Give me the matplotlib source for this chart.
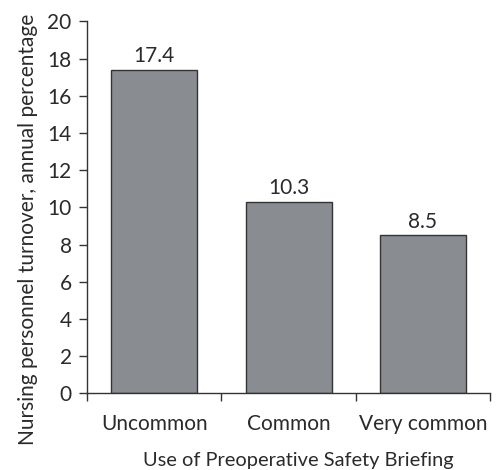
import matplotlib
matplotlib.use("Agg")
import matplotlib.pyplot as plt

categories = ["Uncommon", "Common", "Very common"]
values = [17.4, 10.3, 8.5]
value_labels = ["17.4", "10.3", "8.5"]
y_ticks = [0, 2, 4, 6, 8, 10, 12, 14, 16, 18, 20]

plt.rcParams["font.family"] = ["Lato", "DejaVu Sans"]
TXT = "#2a2a2a"

fig = plt.figure(figsize=(4.98, 4.70), dpi=100)
ax = fig.add_axes([0.1747, 0.1628, 0.8093, 0.7915])

xs = [i + 0.5 for i in range(len(categories))]
ax.bar(xs, values, width=0.64, color="#898d92", edgecolor="#333333", linewidth=1.0)
for x, v, lab in zip(xs, values, value_labels):
    ax.text(x, v + 0.2, lab, ha="center", va="bottom", fontsize=15, color=TXT)

ax.set_xlim(0, 3)
ax.set_ylim(0, 20)
ax.set_yticks(y_ticks)
ax.set_xticks([0, 1, 2, 3])
ax.set_xticklabels([])
ax.set_xticks(xs, minor=True)
ax.set_xticklabels(categories, minor=True)
ax.tick_params(axis="x", which="minor", length=0, pad=15, labelsize=15, colors=TXT)
ax.tick_params(axis="x", which="major", direction="out", length=6, width=1, color="#333333")
ax.tick_params(axis="y", direction="out", length=6, width=1, color="#333333", labelsize=15, labelcolor=TXT, pad=5)

for s in ["top", "right"]:
    ax.spines[s].set_visible(False)
for s in ["left", "bottom"]:
    ax.spines[s].set_color("#333333")
    ax.spines[s].set_linewidth(1)

ax.set_xlabel("Use of Preoperative Safety Briefing", fontsize=14.4, color=TXT)
ax.xaxis.set_label_coords(0.525, -0.158)
ax.set_ylabel("Nursing personnel turnover, annual percentage", fontsize=15, color=TXT)
ax.yaxis.set_label_coords(-0.122, 0.441)

fig.savefig("out.png", dpi=100)
